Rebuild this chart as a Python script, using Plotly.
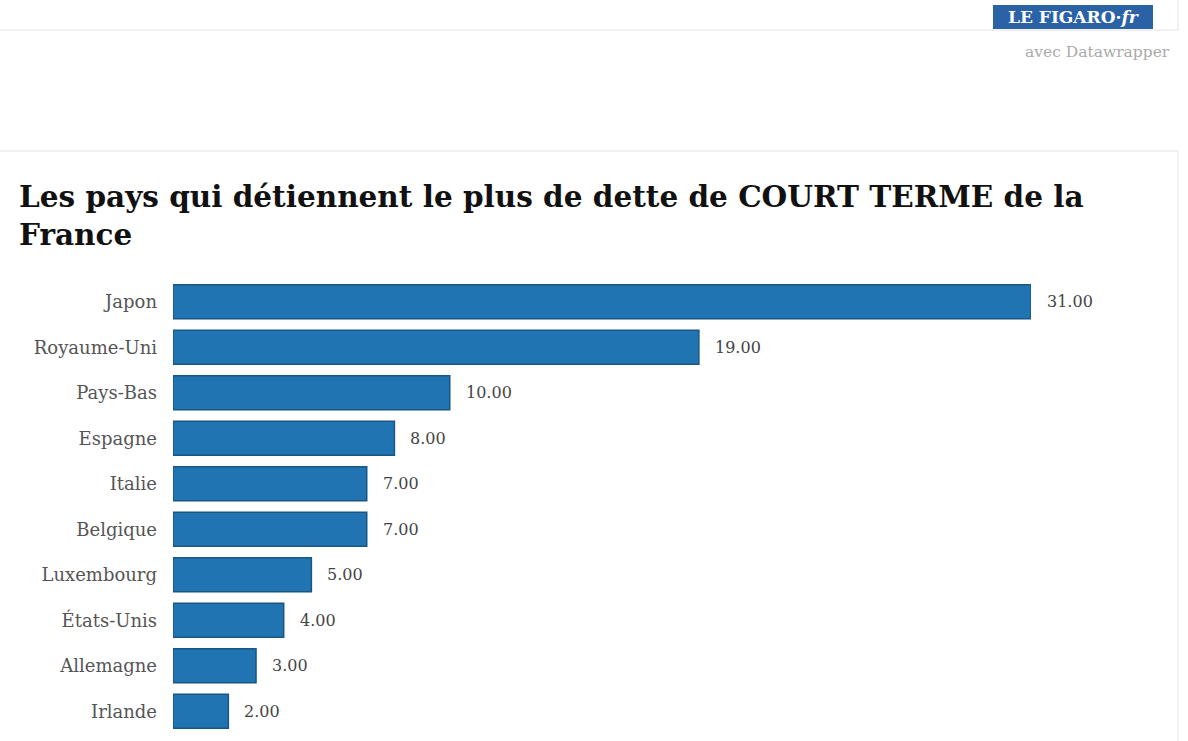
import plotly.graph_objects as go

pays = ["Japon", "Royaume-Uni", "Pays-Bas", "Espagne", "Italie", "Belgique",
        "Luxembourg", "États-Unis", "Allemagne", "Irlande"]
valeurs = [31, 19, 10, 8, 7, 7, 5, 4, 3, 2]

titre = "Les pays qui détiennent le plus de dette de COURT TERME de la<br>France"

W, H = 1188, 741
ML, MR, MT, MB = 173, 157, 279, 7
PW, PH = W - ML - MR, H - MT - MB


def px_x(px):
    return (px - ML) / PW


def px_y(py):
    return (H - MB - py) / PH


fig = go.Figure()
fig.add_trace(go.Bar(
    x=valeurs,
    y=pays,
    orientation="h",
    width=0.75,
    marker=dict(color="#2174b2", line=dict(color="#1a5683", width=1.5)),
    hoverinfo="x+y",
))

annotations = []
for p, v in zip(pays, valeurs):
    annotations.append(dict(
        x=v, y=p, xref="x", yref="y", text=f"{v:.2f}", showarrow=False,
        xanchor="left", xshift=14,
        font=dict(family="DejaVu Serif", size=16, color="#444444"),
    ))

annotations.append(dict(
    x=px_x(17), y=px_y(177), xref="paper", yref="paper", text=titre,
    showarrow=False, xanchor="left", yanchor="top", align="left",
    font=dict(family="DejaVu Serif", size=29.5, color="#111111", weight="bold"),
))
annotations.append(dict(
    x=px_x(1073), y=px_y(17), xref="paper", yref="paper",
    text="LE FIGARO·<i>fr</i>", showarrow=False,
    xanchor="center", yanchor="middle",
    font=dict(family="DejaVu Serif", size=17, color="white", weight="bold"),
))
annotations.append(dict(
    x=px_x(1172), y=px_y(52), xref="paper", yref="paper",
    text="avec Datawrapper", showarrow=False,
    xanchor="right", yanchor="middle",
    font=dict(family="DejaVu Serif", size=15.5, color="#aaaaaa"),
))

grey = "#e4e4e4"
shapes = [
    dict(type="rect", xref="paper", yref="paper",
         x0=px_x(993), x1=px_x(1153), y0=px_y(5), y1=px_y(29),
         fillcolor="#2b62a6", line=dict(width=0)),
    dict(type="line", xref="paper", yref="paper",
         x0=px_x(0), x1=px_x(1178), y0=px_y(30), y1=px_y(30),
         line=dict(color=grey, width=1)),
    dict(type="line", xref="paper", yref="paper",
         x0=px_x(1178), x1=px_x(1178), y0=px_y(0), y1=px_y(30),
         line=dict(color=grey, width=1)),
    dict(type="line", xref="paper", yref="paper",
         x0=px_x(0), x1=px_x(1178), y0=px_y(151), y1=px_y(151),
         line=dict(color=grey, width=1)),
    dict(type="line", xref="paper", yref="paper",
         x0=px_x(1178), x1=px_x(1178), y0=px_y(151), y1=px_y(741),
         line=dict(color=grey, width=1)),
]

fig.update_layout(
    width=W, height=H,
    margin=dict(l=ML, r=MR, t=MT, b=MB),
    paper_bgcolor="white", plot_bgcolor="white",
    showlegend=False,
    annotations=annotations,
    shapes=shapes,
    xaxis=dict(range=[0, 31], visible=False, fixedrange=True),
    yaxis=dict(
        autorange="reversed", showgrid=False, zeroline=False, showline=False,
        ticks="", ticklabelstandoff=15, fixedrange=True,
        tickfont=dict(family="DejaVu Serif", size=18, color="#555555"),
    ),
)

fig.write_html("out.html", config={"displayModeBar": False},
               post_script="document.body.style.margin='0';")
